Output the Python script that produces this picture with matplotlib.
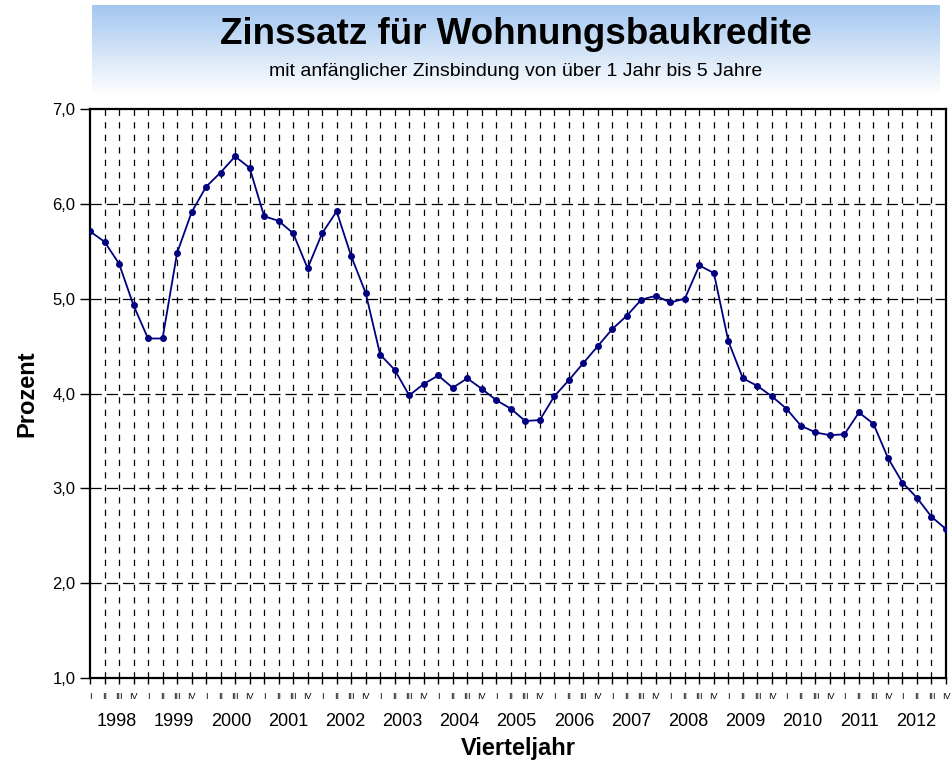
import numpy as np
import matplotlib

matplotlib.use("Agg")
import matplotlib.pyplot as plt
from matplotlib.transforms import blended_transform_factory

plt.rcParams["font.family"] = ["Liberation Sans", "DejaVu Sans"]

years = list(range(1998, 2013))
quarters = ["I", "II", "III", "IV"]
rates = [
    5.71, 5.60, 5.37, 4.93,
    4.58, 4.58, 5.48, 5.91,
    6.18, 6.33, 6.50, 6.38,
    5.87, 5.82, 5.69, 5.32,
    5.69, 5.92, 5.45, 5.06,
    4.41, 4.25, 3.98, 4.10,
    4.19, 4.06, 4.16, 4.05,
    3.93, 3.84, 3.71, 3.72,
    3.97, 4.14, 4.32, 4.50,
    4.68, 4.82, 4.99, 5.03,
    4.96, 5.00, 5.35, 5.27,
    4.55, 4.16, 4.08, 3.97,
    3.84, 3.66, 3.59, 3.56,
    3.57, 3.80, 3.68, 3.32,
    3.06, 2.90, 2.70, 2.57,
]

W, H = 953, 767
fig = plt.figure(figsize=(W / 100, H / 100), dpi=100)

# title band with blue-to-white gradient
band = fig.add_axes([92 / W, 1 - 95 / H, (940 - 92) / W, 90 / H])
top = np.array([0.64, 0.78, 0.94])
grad = np.linspace(0, 1, 100)[:, None]
img = top[None, None, :] * (1 - grad[..., None]) + np.ones(3)[None, None, :] * grad[..., None]
img = np.clip(img, 0, 1)
band.imshow(img, aspect="auto", extent=[0, 1, 0, 1])
band.axis("off")
fig.text(516 / W, 1 - 35 / H, "Zinssatz für Wohnungsbaukredite", ha="center", va="center",
         fontsize=26.5, fontweight="bold")
fig.text(516 / W, 1 - 71 / H, "mit anfänglicher Zinsbindung von über 1 Jahr bis 5 Jahre",
         ha="center", va="center", fontsize=14)

ax = fig.add_axes([90 / W, 1 - 678 / H, (946 - 90) / W, (678 - 109) / H])
x = np.arange(len(rates))

for xi in x[1:]:
    ax.axvline(xi, color="black", lw=0.9, linestyle=(0, (5, 5)), zorder=1)
for yv in range(2, 7):
    ax.axhline(yv, color="black", lw=0.9, linestyle=(0, (9, 4)), zorder=1)

ax.plot(x, rates, color="#000080", lw=1.3, marker="o", markersize=4, zorder=3)

ax.set_xlim(0, len(rates) - 1)
ax.set_ylim(1, 7)
ax.set_yticks(range(1, 8))
ax.set_yticklabels([f"{v},0" for v in range(1, 8)], fontsize=12)
ax.set_xticks(x)
ax.set_xticklabels(quarters * len(years), fontsize=6.5)
ax.tick_params(axis="y", direction="out", length=7, width=1)
ax.tick_params(axis="x", direction="out", length=4, width=1, pad=6)
for s in ax.spines.values():
    s.set_linewidth(1.6)

# year labels sit slightly off the quarter grid, as in the source layout
tr = blended_transform_factory(ax.transData, ax.transAxes)
for i, yr in enumerate(years):
    ax.text(i * 4 + 1.86 - 0.064 * i, -0.077, str(yr), transform=tr, ha="center", va="center",
            fontsize=13)

ax.set_ylabel("Prozent", fontsize=17, fontweight="bold", labelpad=10)
ax.text((518 - 90) / (946 - 90), -(748 - 678) / (678 - 109), "Vierteljahr",
        transform=ax.transAxes, ha="center", va="center", fontsize=17, fontweight="bold")

fig.savefig("out.png", dpi=100)
